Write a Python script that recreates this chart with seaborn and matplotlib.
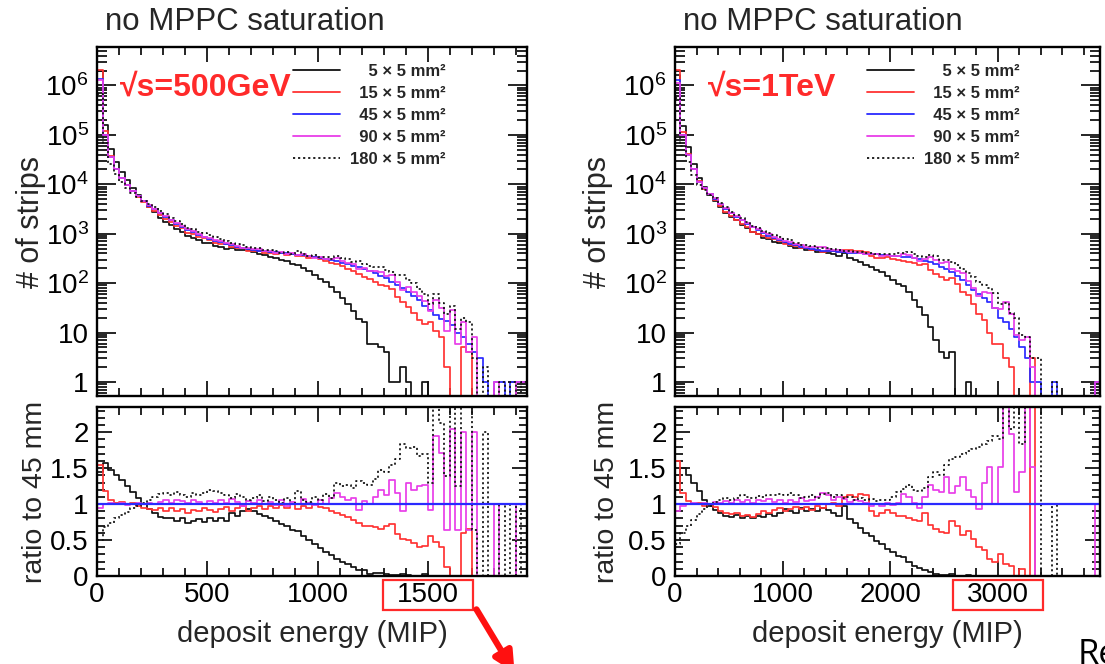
import numpy as np
import matplotlib
matplotlib.use("Agg")
import matplotlib.pyplot as plt
import matplotlib.ticker as mticker
from matplotlib.lines import Line2D
from matplotlib.patches import Rectangle, FancyArrowPatch
from matplotlib.transforms import blended_transform_factory
import seaborn as sns

# ---- data ---------------------------------------------------------------
strip_labels = ["    5 × 5 mm²", "  15 × 5 mm²", "  45 × 5 mm²", "  90 × 5 mm²", "180 × 5 mm²"]
strip_colors = ["#111111", "#ff3333", "#2a2aff", "#e83ee8", "#111111"]
strip_styles = ["-", "-", "-", "-", (0, (1.2, 1.6))]

energy_labels = ["√s=500GeV", "√s=1TeV"]
bin_width_500 = 25
bin_width_1000 = 50
x_max_500 = 1950
x_max_1000 = 3950

# 45 x 5 mm2 strips, hits per bin (reference for the ratio)
ref45_500 = [
    1350000, 100000, 35500, 20000, 13200, 9550, 7240, 5750, 4570, 3720,
    3090, 2570, 2190, 1860, 1580, 1380, 1200, 1070, 955, 871,
    794, 724, 676, 631, 589, 550, 525, 501, 479, 457,
    447, 427, 417, 407, 398, 389, 372, 363, 347, 331,
    316, 302, 288, 275, 257, 240, 224, 209, 191, 174,
    158, 141, 126, 107, 91, 79, 66, 55, 45, 35,
    29, 23, 19, 17, 14, 10, 8, 6, 4, 3,
    1, 0, 1, 1, 0, 1, 1, 1]

ratio5_500 = [
    1.45, 1.57, 1.48, 1.40, 1.33, 1.25, 1.17, 1.08, 1.00, 0.93,
    0.87, 0.82, 0.80, 0.81, 0.77, 0.80, 0.74, 0.76, 0.79, 0.75,
    0.80, 0.77, 0.80, 0.76, 0.88, 0.84, 0.90, 0.93, 0.90, 0.86,
    0.83, 0.80, 0.76, 0.72, 0.69, 0.64, 0.62, 0.56, 0.50, 0.45,
    0.39, 0.34, 0.29, 0.24, 0.20, 0.16, 0.12, 0.09, 0.084, 0.034,
    0.038, 0.035, 0.032, 0.009, 0.011, 0.025, 0.015, 0, 0, 0.029,
    0, 0, 0, 0, 0, 0, 0, 0, 0, 0,
    0, 0, 0, 0, 0, 0, 0, 0]

ratio15_500 = [
    1.55, 1.18, 1.05, 1.02, 1.03, 1.00, 1.02, 0.98, 0.95, 0.93,
    0.92, 0.95, 0.90, 0.94, 0.90, 0.93, 0.88, 0.92, 0.90, 0.95,
    0.92, 0.89, 0.93, 0.96, 0.91, 0.94, 0.97, 0.90, 0.95, 0.98,
    0.93, 0.97, 0.94, 0.99, 0.95, 1.00, 0.93, 0.98, 0.95, 1.00,
    0.96, 0.94, 0.90, 0.88, 0.85, 0.82, 0.78, 0.74, 0.70, 0.69,
    0.68, 0.66, 0.70, 0.72, 0.58, 0.52, 0.50, 0.46, 0.40, 0.42,
    0.55, 0.47, 0.40, 0.12, 0, 0, 0.60, 0.65, 0, 0,
    0, 0, 0, 0, 0, 0, 0, 0]

ratio90_500 = [
    0.95, 1.00, 1.02, 1.00, 1.01, 0.99, 1.00, 1.01, 1.00, 1.02,
    1.00, 1.03, 1.05, 1.02, 1.06, 1.04, 1.02, 1.05, 1.03, 1.00,
    1.04, 1.02, 1.06, 1.01, 1.07, 1.03, 0.98, 1.04, 1.02, 1.06,
    1.00, 1.03, 0.99, 1.05, 0.98, 1.03, 1.00, 1.07, 1.02, 0.99,
    1.05, 1.00, 1.08, 1.15, 1.10, 1.05, 1.08, 0.92, 1.04, 1.00,
    1.10, 1.20, 1.12, 1.34, 1.15, 0.90, 1.29, 1.20, 1.25, 1.26,
    0.92, 1.94, 1.71, 0.64, 2.04, 0.64, 2.00, 0.64, 2.00, 0,
    0, 0, 1, 0, 0, 0, 1, 1]

ratio180_500 = [
    0.50, 0.68, 0.74, 0.80, 0.85, 0.89, 0.94, 0.98, 1.02, 1.06,
    1.10, 1.14, 1.16, 1.13, 1.17, 1.12, 1.10, 1.15, 1.13, 1.16,
    1.20, 1.18, 1.15, 1.12, 1.09, 1.14, 1.10, 1.06, 1.08, 1.12,
    1.04, 1.10, 1.05, 1.02, 1.08, 1.00, 1.18, 1.05, 1.03, 1.10,
    1.06, 1.14, 1.08, 1.29, 1.25, 1.27, 1.22, 1.32, 1.30, 1.27,
    1.35, 1.48, 1.45, 1.55, 1.62, 1.83, 1.78, 1.80, 1.67, 1.70,
    1.29, 2.60, 2.13, 1.39, 2.50, 1.25, 2.50, 2.70, 0.64, 0,
    2, 0, 0, 1, 0, 1, 0, 1]

ref45_1000 = [
    1260000, 100000, 39800, 20000, 11200, 8320, 6310, 5010, 3980, 3160,
    2630, 2190, 1860, 1580, 1350, 1170, 1020, 912, 832, 759,
    692, 631, 589, 550, 525, 501, 479, 457, 447, 437,
    427, 417, 407, 398, 398, 389, 389, 380, 372, 363,
    355, 347, 339, 331, 324, 302, 282, 263, 240, 214,
    191, 166, 138, 115, 93, 74, 59, 50, 42, 32,
    20, 16, 12, 8, 5, 3, 1, 1, 0, 0,
    1, 0, 0, 0, 0, 0, 0, 0, 1]

ratio5_1000 = [
    1.30, 1.50, 1.40, 1.30, 1.18, 1.06, 0.98, 0.92, 0.88, 0.84,
    0.82, 0.85, 0.81, 0.83, 0.80, 0.84, 0.82, 0.86, 0.83, 0.87,
    0.93, 0.90, 0.88, 0.95, 0.91, 0.93, 0.90, 0.95, 0.92, 0.88,
    0.84, 0.98, 0.79, 0.74, 0.67, 0.60, 0.55, 0.49, 0.45, 0.38,
    0.33, 0.28, 0.26, 0.20, 0.14, 0.11, 0.08, 0.05, 0.03, 0.02,
    0.015, 0.024, 0, 0, 0.011, 0, 0, 0, 0, 0,
    0, 0, 0, 0, 0, 0, 0, 0, 0, 0,
    0, 0, 0, 0, 0, 0, 0, 0, 0]

ratio15_1000 = [
    1.60, 1.16, 1.04, 1.00, 1.02, 0.98, 1.00, 0.96, 0.90, 0.88,
    0.86, 0.88, 0.84, 0.85, 0.82, 0.86, 0.90, 0.88, 0.92, 0.94,
    0.90, 0.93, 0.96, 0.93, 0.96, 0.92, 0.98, 0.95, 1.00, 1.02,
    0.98, 1.10, 1.13, 1.10, 1.14, 1.12, 0.90, 0.84, 0.88, 0.92,
    0.88, 0.84, 0.83, 0.80, 0.78, 0.76, 0.88, 0.71, 0.65, 0.61,
    0.60, 0.76, 0.70, 0.57, 0.62, 0.52, 0.40, 0.36, 0.24, 0.19,
    0.31, 0.17, 0.14, 0, 0.10, 0, 3.0, 0, 0, 0,
    0, 0, 0, 0, 0, 0, 0, 0, 0]

ratio90_1000 = [
    0.90, 0.98, 1.00, 1.01, 1.00, 1.02, 1.00, 1.03, 1.02, 1.04,
    1.01, 1.05, 1.03, 1.06, 1.02, 1.05, 1.04, 1.07, 1.03, 1.05,
    1.02, 1.06, 1.03, 1.08, 1.04, 1.06, 1.10, 1.15, 1.12, 1.05,
    1.10, 1.07, 1.03, 1.06, 1.04, 1.02, 0.98, 1.00, 0.97, 1.02,
    0.99, 1.01, 1.14, 1.10, 1.02, 0.95, 1.10, 1.26, 1.20, 1.17,
    1.38, 1.15, 1.25, 1.38, 1.20, 1.10, 0.93, 1.30, 1.52, 1.00,
    1.52, 2.60, 1.98, 1.17, 1.45, 2.70, 1.52, 0, 0, 0,
    0, 0, 0, 0, 0, 0, 0, 0, 1]

ratio180_1000 = [
    0.45, 0.60, 0.70, 0.78, 0.86, 0.93, 0.98, 1.03, 1.06, 1.08,
    1.05, 1.09, 1.12, 1.10, 1.08, 1.11, 1.10, 1.13, 1.12, 1.14,
    1.13, 1.16, 1.12, 1.08, 1.10, 1.12, 1.09, 1.14, 1.15, 1.10,
    1.12, 1.08, 1.10, 1.06, 1.09, 1.05, 1.07, 1.04, 1.06, 1.05,
    1.10, 1.17, 1.21, 1.26, 1.20, 1.18, 1.22, 1.38, 1.45, 1.40,
    1.55, 1.62, 1.66, 1.69, 1.74, 1.77, 1.80, 1.83, 1.88, 1.95,
    1.90, 2.50, 2.05, 2.50, 1.83, 2.60, 2.70, 3.00, 0, 0,
    1, 0, 0, 0, 0, 0, 0, 0, 0]

boxed_ticks = [1500, 3000]

# ---- style ----------------------------------------------------------------
sns.set_style("ticks")
plt.rcParams["font.family"] = ["Liberation Sans", "DejaVu Sans"]
plt.rcParams["mathtext.fontset"] = "custom"
plt.rcParams["mathtext.rm"] = "Liberation Sans"
plt.rcParams["mathtext.it"] = "Liberation Sans:italic"
plt.rcParams["mathtext.bf"] = "Liberation Sans:bold"
plt.rcParams["axes.linewidth"] = 1.7
plt.rcParams["axes.edgecolor"] = "black"

TICK_SIZE = 20
RED = "#ff2a2a"


def log_label(v, pos):
    if v == 1:
        return "1"
    if v == 10:
        return "10"
    return "$10^{%d}$" % int(round(np.log10(v)))


def step_hist(ax, edges, values, color, ls):
    """Draw histogram contents as a ROOT-like step outline."""
    values = np.asarray(values, dtype=float)
    sns.lineplot(x=edges, y=np.append(values, values[-1]), estimator=None, sort=False,
                 drawstyle="steps-post", color=color, linestyle=ls, linewidth=1.25, ax=ax)


def draw_panel(fig, rect_top, rect_ratio, width, x_max, ref, ratios, major, energy,
               energy_x, box_tick):
    ax_top = fig.add_axes(rect_top)
    ax_rat = fig.add_axes(rect_ratio)
    edges = np.arange(0, x_max + width / 2, width, dtype=float)
    ref = np.asarray(ref, dtype=float)

    # top: absolute histograms; ratio: each size / 45 mm
    for i, (color, ls) in enumerate(zip(strip_colors, strip_styles)):
        r = ratios[i]
        counts = ref if r is None else np.rint(ref * np.asarray(r))
        step_hist(ax_top, edges, counts, color, ls)
    for i in [0, 1, 3, 4]:
        step_hist(ax_rat, edges, ratios[i], strip_colors[i], strip_styles[i])
    ax_rat.axhline(1, color=strip_colors[2], lw=1.6)

    ax_top.set_yscale("log")
    ax_top.set_ylim(0.52, 6e6)
    ax_rat.set_ylim(0, 2.35)
    for ax in (ax_top, ax_rat):
        ax.set_xlim(0, x_max)
        ax.xaxis.set_major_locator(mticker.MultipleLocator(major))
        ax.xaxis.set_minor_locator(mticker.MultipleLocator(major / 5))
        ax.tick_params(which="both", direction="in", top=True, right=True,
                       labelsize=TICK_SIZE, width=1.2, colors="black")
        ax.tick_params(which="major", length=11)
        ax.tick_params(which="minor", length=5.5)
        ax.set_xlabel("")
        ax.set_ylabel("")
        for s in ax.spines.values():
            s.set_visible(True)

    ax_top.yaxis.set_major_locator(mticker.FixedLocator([1, 10, 1e2, 1e3, 1e4, 1e5, 1e6]))
    ax_top.yaxis.set_major_formatter(mticker.FuncFormatter(log_label))
    ax_top.yaxis.set_minor_locator(mticker.LogLocator(base=10, subs=np.arange(2, 10), numticks=20))
    ax_top.yaxis.set_minor_formatter(mticker.NullFormatter())
    ax_top.tick_params(axis="x", labelbottom=False)
    ax_top.tick_params(axis="y", which="major", length=14, pad=6)
    ax_top.tick_params(axis="y", which="minor", length=7)

    ax_rat.yaxis.set_major_locator(mticker.MultipleLocator(0.5))
    ax_rat.yaxis.set_minor_locator(mticker.MultipleLocator(0.1))
    ax_rat.yaxis.set_major_formatter(mticker.FuncFormatter(lambda v, p: "%g" % v))
    ax_rat.xaxis.set_major_formatter(mticker.FuncFormatter(lambda v, p: "%d" % v))
    ax_rat.tick_params(axis="x", pad=4)
    ax_rat.tick_params(axis="y", pad=6)

    ax_top.text(0.019, 1.05, "no MPPC saturation", transform=ax_top.transAxes,
                fontsize=22.5, va="baseline", ha="left")
    ax_top.text(energy_x, 0.883, energy, transform=ax_top.transAxes, color=RED,
                fontsize=23, fontweight="bold", va="center", ha="left")

    handles = [Line2D([], [], color=c, linestyle=ls, lw=1.3)
               for c, ls in zip(strip_colors, strip_styles)]
    ax_top.legend(handles, strip_labels, loc="upper right", bbox_to_anchor=(0.83, 0.975),
                  frameon=False, prop={"size": 12, "weight": "bold"}, handlelength=2.8,
                  handletextpad=0.6, labelspacing=0.42, borderpad=0)

    ax_top.set_ylabel("# of strips", fontsize=22)
    ax_rat.set_ylabel("ratio to 45 mm", fontsize=20.5)
    ax_rat.set_xlabel("deposit energy (MIP)", fontsize=21)

    # red box around one energy tick label
    tr = blended_transform_factory(ax_rat.transData, fig.transFigure)
    half = 0.42 * major if major == 1000 else 0.41 * major
    ax_rat.add_artist(Rectangle((box_tick - half, 1 - 610 / 664), 2 * half, 30 / 664,
                                transform=tr, fill=False, edgecolor=RED, lw=1.6,
                                clip_on=False))
    return ax_top, ax_rat


fig = plt.figure(figsize=(11.05, 6.64), dpi=100)

top_b, top_h = 1 - 396 / 664, 349 / 664
rat_b, rat_h = 1 - 576 / 664, 169 / 664

lt, lr = draw_panel(fig, [97 / 1105, top_b, 430 / 1105, top_h], [97 / 1105, rat_b, 430 / 1105, rat_h],
                    bin_width_500, x_max_500, ref45_500,
                    [ratio5_500, ratio15_500, None, ratio90_500, ratio180_500],
                    500, energy_labels[0], 0.053, boxed_ticks[0])
rt, rr = draw_panel(fig, [675 / 1105, top_b, 425 / 1105, top_h], [675 / 1105, rat_b, 425 / 1105, rat_h],
                    bin_width_1000, x_max_1000, ref45_1000,
                    [ratio5_1000, ratio15_1000, None, ratio90_1000, ratio180_1000],
                    1000, energy_labels[1], 0.078, boxed_ticks[1])

lt.yaxis.set_label_coords((46 - 97) / 430, 0.5)
lr.yaxis.set_label_coords((48 - 97) / 430, 0.5)
rt.yaxis.set_label_coords((613 - 675) / 425, 0.5)
rr.yaxis.set_label_coords((620 - 675) / 425, 0.5)
lr.xaxis.set_label_coords(0.5, -0.26)
rr.xaxis.set_label_coords(0.5, -0.26)

# arrow pointing out of the left panel, and the cut-off text at the corner
fig.add_artist(FancyArrowPatch((475 / 1105, 1 - 607 / 664), (516 / 1105, 1 - 675 / 664),
                               transform=fig.transFigure, arrowstyle="-|>",
                               mutation_scale=30, color="#ff1010", lw=4.5))
fig.text(1078 / 1105, 1 - 638 / 664, "Re", fontsize=25, va="top", ha="left",
         family=["Open Sans", "DejaVu Sans"], color="black")

fig.savefig("out.png", dpi=100)
